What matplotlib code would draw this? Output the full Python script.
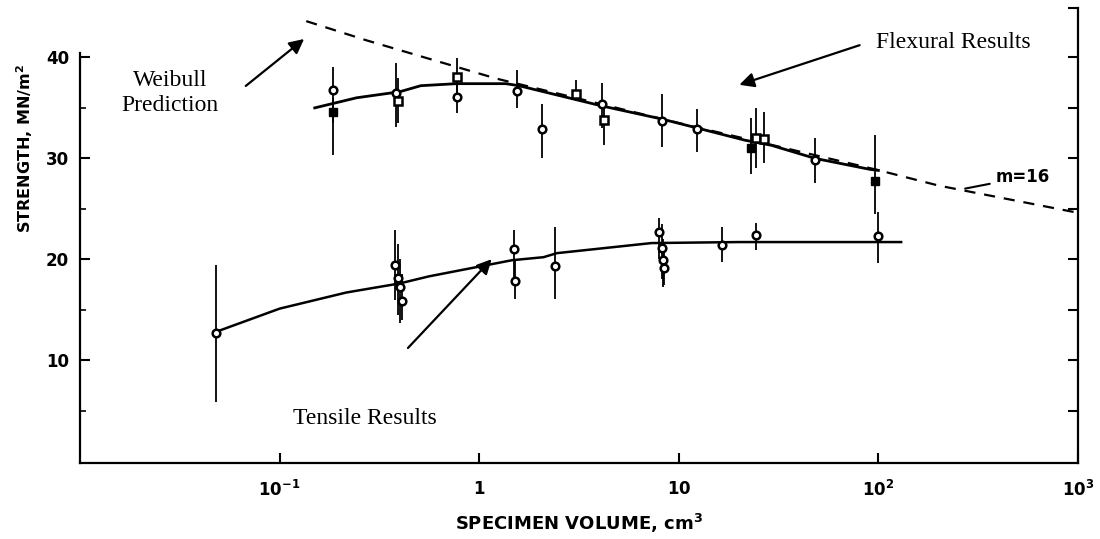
import numpy as np
import matplotlib
matplotlib.use('Agg')
import matplotlib.pyplot as plt

# flexural results - open circles
flex_c_x = [0.186, 0.385, 0.77, 1.55, 2.07, 4.1, 8.2, 12.4, 48.4]
flex_c_y = [36.8, 36.5, 36.1, 36.7, 32.9, 35.4, 33.7, 32.9, 29.8]
flex_c_lo = [33.5, 33.1, 34.5, 35.0, 30.0, 33.0, 31.1, 30.6, 27.6]
flex_c_hi = [39.1, 39.4, 38.5, 38.8, 35.4, 37.5, 36.4, 34.9, 32.0]

# flexural results - open squares
flex_s_x = [0.39, 0.77, 3.05, 4.2, 24.4, 26.7]
flex_s_y = [35.7, 38.1, 36.4, 33.8, 32.0, 31.9]
flex_s_lo = [33.5, 36.5, 35.7, 31.3, 29.0, 29.5]
flex_s_hi = [38.0, 39.9, 37.8, 35.5, 35.0, 34.6]

# flexural results - filled squares
flex_f_x = [0.186, 23.0, 96.6]
flex_f_y = [34.6, 31.0, 27.8]
flex_f_lo = [30.3, 28.4, 24.5]
flex_f_hi = [36.0, 34.0, 32.3]

# tensile results - open circles
ten_x = [0.048, 0.38, 0.39, 0.40, 0.41, 1.49, 1.52, 2.4, 8.0, 8.2, 8.3, 8.4, 16.4, 24.3, 100]
ten_y = [12.7, 19.4, 18.1, 17.2, 15.9, 21.0, 17.8, 19.3, 22.7, 21.1, 19.9, 19.1, 21.4, 22.4, 22.3]
ten_lo = [5.8, 16.0, 14.5, 13.7, 14.0, 17.5, 16.1, 16.1, 20.0, 18.0, 17.2, 17.4, 19.7, 20.9, 19.6]
ten_hi = [19.4, 22.9, 21.5, 20.0, 18.5, 22.9, 20.0, 23.2, 24.1, 23.5, 22.0, 21.0, 23.2, 23.6, 24.7]

# fitted curves
flex_fit_x = [0.15, 0.243, 0.4, 0.51, 0.77, 1.36, 1.58, 4.1, 8.2, 12.4, 21.4, 29, 48, 91, 100]
flex_fit_y = [35.0, 36.0, 36.6, 37.2, 37.4, 37.4, 37.2, 35.2, 33.9, 33.0, 31.8, 31.3, 30.0, 28.9, 28.8]

ten_fit_x = [0.048, 0.1, 0.216, 0.4, 0.56, 1.46, 2.1, 2.45, 7.3, 20, 50, 130]
ten_fit_y = [12.8, 15.1, 16.7, 17.6, 18.3, 19.9, 20.2, 20.6, 21.6, 21.7, 21.7, 21.7]

weibull_x = [0.136, 0.272, 1.22, 10, 96.6, 200, 1000]
weibull_y = [43.6, 41.7, 37.9, 33.5, 28.9, 27.3, 24.6]

xticks = [0.1, 1, 10, 100, 1000]
xtick_labels = [r'$\mathbf{10^{-1}}$', r'$\mathbf{1}$', r'$\mathbf{10}$',
                r'$\mathbf{10^{2}}$', r'$\mathbf{10^{3}}$']
yticks = [10, 20, 30, 40]

fig = plt.figure(figsize=(11, 5.39), dpi=100)
ax = fig.add_axes([80 / 1100, 76 / 539, 998 / 1100, 455 / 539])
ax.set_xscale('log')
ax.set_xlim(0.01, 1000)
ax.set_ylim(-0.2, 44.9)

ax.plot(weibull_x, weibull_y, color='black', lw=1.6, ls=(0, (5, 4)), zorder=2)
ax.plot(flex_fit_x, flex_fit_y, color='black', lw=2.0, zorder=3)
ax.plot(ten_fit_x, ten_fit_y, color='black', lw=1.8, zorder=3)


def bars(x, y, lo, hi, **kw):
    y = np.array(y)
    err = [y - np.array(lo), np.array(hi) - y]
    ax.errorbar(x, y, yerr=err, fmt='none', ecolor='black', elinewidth=1.3,
                capsize=0, zorder=4)
    ax.plot(x, y, ls='none', zorder=5, **kw)


bars(flex_c_x, flex_c_y, flex_c_lo, flex_c_hi, marker='o', ms=5.5,
     mfc='white', mec='black', mew=1.8)
bars(flex_s_x, flex_s_y, flex_s_lo, flex_s_hi, marker='s', ms=5.5,
     mfc='white', mec='black', mew=1.8)
bars(flex_f_x, flex_f_y, flex_f_lo, flex_f_hi, marker='s', ms=6,
     mfc='black', mec='black')
bars(ten_x, ten_y, ten_lo, ten_hi, marker='o', ms=5.5,
     mfc='white', mec='black', mew=1.8)

# axes styling
ax.spines['top'].set_visible(False)
ax.spines['left'].set_bounds(-0.2, 40.4)
for s in ['left', 'bottom', 'right']:
    ax.spines[s].set_linewidth(1.6)

ax.set_xticks(xticks)
ax.set_xticklabels(xtick_labels)
ax.xaxis.set_minor_locator(matplotlib.ticker.NullLocator())
ax.set_yticks(yticks)
ax.set_yticklabels([str(v) for v in yticks], fontweight='bold')
ax.set_yticks([5, 15, 25, 35], minor=True)
ax.tick_params(axis='both', which='major', direction='in', length=7, width=1.5,
               labelsize=12, pad=8)
ax.tick_params(axis='x', which='major', pad=12)
ax.tick_params(axis='y', which='minor', direction='in', length=4, width=1.2)

rax = ax.twinx()
rax.set_ylim(ax.get_ylim())
rax.set_yticks([5, 10, 15, 20, 25, 30, 35, 40, 44.9])
rax.set_yticklabels([])
rax.tick_params(axis='y', direction='in', length=7, width=1.5)
for s in rax.spines.values():
    s.set_visible(False)

fig.text(25 / 1100, 1 - 149 / 539, 'STRENGTH, MN/m$^{\\mathbf{2}}$', rotation=90,
         ha='center', va='center', fontsize=11.5, fontweight='bold')
fig.text(579 / 1100, 1 - 523 / 539, 'SPECIMEN VOLUME, cm$^{\\mathbf{3}}$',
         ha='center', va='center', fontsize=13, fontweight='bold')

# m=16 label with leader
ax.annotate('m=16', xy=(272, 27.0), xytext=(385, 28.1), fontsize=12,
            fontweight='bold', va='center',
            arrowprops=dict(arrowstyle='-', color='black', lw=1.5,
                            shrinkA=2, shrinkB=0))

# annotations in serif
serif = 'Liberation Serif'
ax.annotate('', xy=(0.136, 42.0), xytext=(0.066, 37.0),
            arrowprops=dict(arrowstyle='-|>', color='black', lw=1.6,
                            mutation_scale=22))
fig.text(170 / 1100, 1 - 93 / 539, 'Weibull\nPrediction', ha='center', va='center',
         fontsize=17, family=serif, linespacing=1.25)

ax.annotate('', xy=(19.5, 37.2), xytext=(83, 41.3),
            arrowprops=dict(arrowstyle='-|>', color='black', lw=1.6,
                            mutation_scale=22))
fig.text(953 / 1100, 1 - 43 / 539, 'Flexural Results', ha='center', va='center',
         fontsize=17, family=serif)

ax.annotate('', xy=(1.18, 20.2), xytext=(0.43, 11.0),
            arrowprops=dict(arrowstyle='-|>', color='black', lw=1.6,
                            mutation_scale=22))
fig.text(365 / 1100, 1 - 419 / 539, 'Tensile Results', ha='center', va='center',
         fontsize=17, family=serif)

fig.savefig('out.png', dpi=100)
